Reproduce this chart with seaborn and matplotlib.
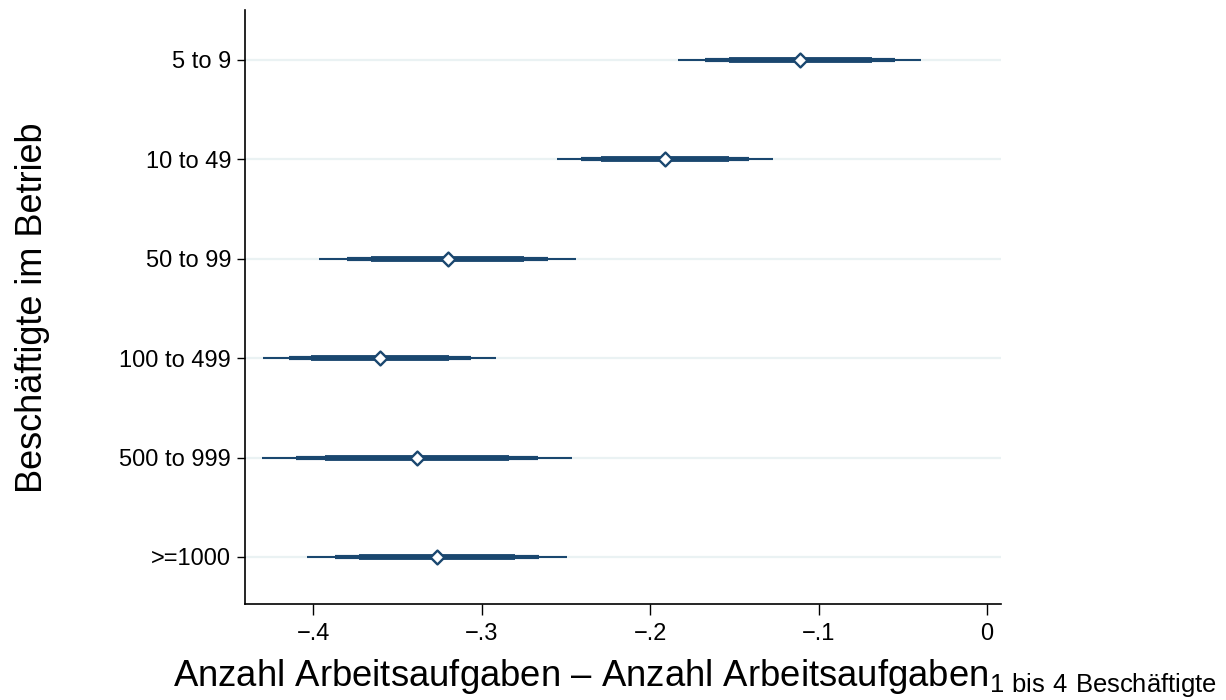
import numpy as np
import pandas as pd
import matplotlib
matplotlib.use("Agg")
import matplotlib.pyplot as plt
import seaborn as sns

# Koeffizienten und Konfidenzintervalle (drei Stufen)
categories = ["5 to 9", "10 to 49", "50 to 99", "100 to 499", "500 to 999", ">=1000"]
coef = [-0.111, -0.191, -0.320, -0.360, -0.3385, -0.3265]
ci99_lo = [-0.1833, -0.2550, -0.3963, -0.4295, -0.4301, -0.4037]
ci99_hi = [-0.0394, -0.1272, -0.2439, -0.2914, -0.2465, -0.2491]
ci95_lo = [-0.1674, -0.2411, -0.3796, -0.4142, -0.4101, -0.3869]
ci95_hi = [-0.0546, -0.1411, -0.2603, -0.3064, -0.2666, -0.2659]
ci90_lo = [-0.1533, -0.2291, -0.3656, -0.4014, -0.3929, -0.3725]
ci90_hi = [-0.0684, -0.1529, -0.2746, -0.3193, -0.2837, -0.2801]
xticks = [-0.4, -0.3, -0.2, -0.1, 0.0]
xtick_labels = ["\u2212.4", "\u2212.3", "\u2212.2", "\u2212.1", "0"]

df = pd.DataFrame({
    "cat": categories, "coef": coef,
    "lo99": ci99_lo, "hi99": ci99_hi,
    "lo95": ci95_lo, "hi95": ci95_hi,
    "lo90": ci90_lo, "hi90": ci90_hi,
})
df["pos"] = np.arange(len(df))

sns.set_theme(style="white")
plt.rcParams["font.family"] = ["Liberation Sans", "DejaVu Sans"]
plt.rcParams["mathtext.fontset"] = "custom"
plt.rcParams["mathtext.rm"] = "Liberation Sans"
plt.rcParams["text.color"] = "black"
plt.rcParams["xtick.color"] = "black"
plt.rcParams["ytick.color"] = "black"

navy = "#1a476f"
grid = "#eaf2f3"

fig = plt.figure(figsize=(12.26, 7), dpi=100)
ax = fig.add_axes([245 / 1226, 1 - 604 / 700, (1001 - 245) / 1226, (604 - 10) / 700])

# Gitterlinien
ax.hlines(df["pos"], -0.4404, 0.0083, color=grid, lw=1.6, zorder=0)

ax.hlines(df["pos"], df["lo99"], df["hi99"], color=navy, lw=1.5, zorder=2)
ax.hlines(df["pos"], df["lo95"], df["hi95"], color=navy, lw=3.0, zorder=3)
ax.hlines(df["pos"], df["lo90"], df["hi90"], color=navy, lw=4.2, zorder=4)

sns.scatterplot(data=df, x="coef", y="pos", marker="D", s=50, color="white",
                edgecolor=navy, linewidth=1.7, zorder=5, ax=ax, legend=False)

ax.set_xlim(-0.4404, 0.0083)
ax.set_ylim(5.473, -0.503)
ax.set_xticks(xticks)
ax.set_xticklabels(xtick_labels, fontsize=17, color="black")
ax.set_yticks(df["pos"])
ax.set_yticklabels(categories, fontsize=17, color="black")
ax.set_xlabel("")
ax.set_ylabel("")
ax.tick_params(axis="x", direction="out", length=8, width=1, color="black", pad=6, bottom=True)
ax.tick_params(axis="y", direction="out", length=6, width=1, color="black", pad=4, left=True)

for s in ["top", "right"]:
    ax.spines[s].set_visible(False)
for s in ["left", "bottom"]:
    ax.spines[s].set_color("black")
    ax.spines[s].set_linewidth(1.2)

fig.text(33 / 1226, 1 - 308 / 700, "Beschäftigte im Betrieb", rotation=90,
         ha="center", va="center", fontsize=26, color="black")
fig.text(173 / 1226, 14 / 700,
         r"Anzahl Arbeitsaufgaben – Anzahl Arbeitsaufgaben$_{\mathregular{1\ bis\ 4\ Beschäftigte}}$",
         ha="left", va="baseline", fontsize=26.3, color="black")

fig.savefig("out.png", dpi=100, facecolor="white")
